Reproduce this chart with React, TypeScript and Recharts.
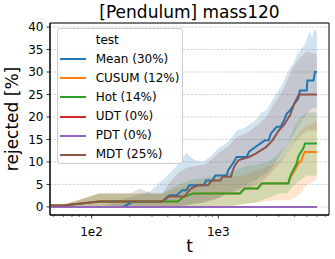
import React from 'react';
import { ComposedChart, Line, Area, XAxis, YAxis, CartesianGrid, ReferenceArea } from 'recharts';

const SERIES = ['Mean', 'CUSUM', 'Hot', 'UDT', 'PDT', 'MDT'];
const SHARES = [30, 12, 14, 0, 0, 25];
const COLORS = ['#1f77b4', '#ff7f0e', '#2ca02c', '#d62728', '#9467bd', '#8c564b'];

const X_TICKS = [50, 60, 70, 80, 90, 100, 200, 300, 400, 500, 600, 700, 800, 900, 1000, 2000, 3000, 4000, 5000, 6000, 7000];
const X_MAJOR = [100, 1000];
const X_LABELS = ['1e2', '1e3'];
const Y_TICKS = [0, 5, 10, 15, 20, 25, 30, 35, 40];

// [t, rejected %]
const meanLine = [
  [47, 0], [177, 0], [212, 1.2], [366, 1.2], [415, 2.6], [470, 2.6], [520, 3.7], [560, 3.7], [590, 4.8],
  [770, 4.8], [800, 5.9], [900, 5.9], [950, 7.0], [1164, 7.0], [1200, 8.2], [1300, 9.6], [1396, 11.1],
  [1675, 11.1], [1750, 12.3], [2000, 13.5], [2337, 14.8], [2500, 14.8], [2600, 16.3], [2891, 17.8],
  [3100, 17.8], [3300, 19.2], [3467, 20.7], [3700, 21.5], [4000, 23], [4285, 24.1], [4415, 25.9],
  [4990, 25.9], [5050, 28.1], [5635, 28.1], [5800, 30], [6000, 30],
];
const cusumLine = [
  [47, 0.3], [60, 0.3], [115, 1.2], [480, 1.2], [530, 2.2], [635, 3.0], [1480, 3.0], [1620, 4.1],
  [2050, 4.1], [2200, 5.2], [3573, 5.3], [3802, 7.1], [4037, 8.2], [4285, 9.7], [4547, 10.4],
  [4684, 11.6], [4844, 12.2], [6000, 12.2],
];
const hotLine = [
  [47, 0.3], [60, 0.3], [115, 1.2], [480, 1.2], [530, 2.2], [635, 3.0], [1480, 3.0], [1620, 4.1],
  [2050, 4.1], [2200, 5.2], [3573, 5.2], [3683, 6.7], [3910, 8.2], [4165, 9.7], [4285, 11.2],
  [4415, 11.9], [4684, 13], [4844, 14.1], [6000, 14.1],
];
const udtLine = [[47, 0], [6000, 0]];
const pdtLine = [[47, 0], [6000, 0]];
const mdtLine = [
  [47, 0.3], [60, 0.3], [115, 1.2], [360, 1.2], [400, 2.3], [540, 2.3], [610, 4.1], [690, 4.8],
  [830, 4.8], [890, 5.9], [1040, 5.9], [1080, 6.7], [1260, 6.7], [1300, 8.1], [1370, 9.5], [1450, 10.4],
  [1750, 11.1], [1990, 11.9], [2380, 13.3], [2680, 14.8], [3000, 17], [3350, 18.5], [3700, 20.5],
  [3980, 23], [4330, 25], [6000, 25],
];

// [t, low, high]
const meanBand = [
  [47, 0, 0], [120, 0, 0], [200, 0, 2.2], [290, 0, 3.4], [415, 0, 7.5], [500, 0.3, 10], [560, 0.5, 12],
  [650, 0.8, 10.5], [750, 1, 10], [850, 1.5, 11], [1000, 2, 13], [1200, 3, 14.5], [1400, 4, 17],
  [1600, 4.5, 17.5], [1800, 5.5, 18.5], [2000, 6, 19.5], [2200, 7, 21], [2400, 7.5, 21.5], [2700, 9, 24],
  [3000, 11, 26], [3300, 13, 28], [3600, 14.5, 30.5], [3900, 16, 32], [4200, 17.5, 34], [4500, 19, 35],
  [4800, 20, 36], [5100, 21, 38], [5300, 21.5, 39], [5500, 22, 37.5], [5700, 22, 39.5], [6000, 22, 39],
];
const cusumBand = [
  [47, 0, 0.5], [60, 0, 0.5], [115, 0, 3], [360, 0, 3], [600, 0, 5], [1000, 0, 6], [1500, 0.5, 7],
  [2000, 1, 8], [3000, 1.5, 10], [3500, 1.5, 12], [4000, 2, 15], [4500, 3, 17], [5000, 5, 18], [6000, 6, 19],
];
const hotBand = [
  [47, 0, 0.5], [60, 0, 0.5], [115, 0, 3], [360, 0, 3], [450, 0, 4.5], [600, 0, 6], [800, 0, 6.5],
  [1000, 0, 7], [1200, 0, 7.5], [1600, 0.7, 9], [2000, 1, 9.5], [2500, 2, 10], [3000, 3, 12],
  [3500, 3, 14], [4000, 5, 18], [4500, 6, 20], [5000, 7, 21], [6000, 7, 21],
];
const mdtBand = [
  [47, 0, 0.5], [60, 0, 0.5], [115, 0, 3], [200, 0, 3], [241, 0, 4.1], [300, 0, 3], [360, 0, 3],
  [415, 0, 5.5], [500, 0, 8], [600, 0.5, 9], [800, 1, 9.5], [1000, 2, 12], [1200, 3, 13.5], [1400, 3.5, 15.5],
  [1700, 4, 16.5], [2000, 5, 18], [2400, 6.5, 20], [2700, 8, 22.5], [3000, 9.5, 24.5], [3300, 11, 26.5],
  [3600, 12.5, 29], [3900, 14, 31], [4200, 15, 32.5], [4500, 16, 33.5], [5000, 17, 34.5], [6000, 17, 34],
];

const LINES = [meanLine, cusumLine, hotLine, udtLine, pdtLine, mdtLine];
const BANDS = [meanBand, cusumBand, hotBand, null, null, mdtBand];

const toLine = (pts: number[][]) => pts.map(([t, v]) => ({ t, v }));
const toBand = (pts: number[][]) => pts.map(([t, lo, hi]) => ({ t, range: [lo, hi] }));

const FONT = '"DejaVu Sans", sans-serif';

function LogTick(props: any) {
  const { x, y, payload } = props;
  const idx = X_MAJOR.indexOf(payload.value);
  const major = idx >= 0;
  return (
    <g>
      <line x1={x} x2={x} y1={y} y2={y + (major ? 3.5 : 2)} stroke="#000" strokeWidth={major ? 0.8 : 0.6} />
      {major && (
        <text x={x} y={y + 20.7} textAnchor="middle" fontSize={12} fill="#000" fontFamily={FONT}>
          {X_LABELS[idx]}
        </text>
      )}
    </g>
  );
}

export default function App() {
  return (
    <div style={{ position: 'absolute', left: 0, top: 0, width: 335, height: 259, fontFamily: FONT, background: '#fff' }}>
      <ComposedChart width={335} height={259} margin={{ top: 23, right: 6, bottom: 0, left: 0 }}>
        <XAxis
          dataKey="t"
          type="number"
          scale="log"
          domain={[47, 7480]}
          allowDataOverflow
          ticks={X_TICKS}
          interval={0}
          height={44}
          tickSize={0}
          tickMargin={0}
          tickLine={false}
          axisLine={{ stroke: '#000', strokeWidth: 1 }}
          tick={<LogTick />}
        />
        <YAxis
          type="number"
          domain={[-1.8, 40.9]}
          allowDataOverflow
          ticks={Y_TICKS}
          interval={0}
          width={50}
          tickSize={3.5}
          tickMargin={3}
          tickLine={{ stroke: '#000', strokeWidth: 0.8 }}
          axisLine={{ stroke: '#000', strokeWidth: 1 }}
          tick={{ fill: '#000', fontSize: 12, fontFamily: FONT }}
        />
        {BANDS.map((b, i) =>
          b ? (
            <Area
              key={'band-' + SERIES[i]}
              data={toBand(b)}
              dataKey="range"
              type="linear"
              stroke="none"
              fill={COLORS[i]}
              fillOpacity={0.2}
              isAnimationActive={false}
              dot={false}
              activeDot={false}
            />
          ) : null
        )}
        <CartesianGrid horizontal vertical={false} stroke="#c8c8c8" strokeDasharray="2.5 1.3" strokeWidth={0.8} />
        {LINES.map((l, i) => (
          <Line
            key={'line-' + SERIES[i]}
            data={toLine(l)}
            dataKey="v"
            type="linear"
            stroke={COLORS[i]}
            strokeWidth={2}
            dot={false}
            activeDot={false}
            isAnimationActive={false}
          />
        ))}
        <ReferenceArea x1={47} x2={7480} y1={-1.8} y2={40.9} fill="none" stroke="#000" strokeWidth={1} ifOverflow="visible" />
      </ComposedChart>
      <svg width={335} height={259} style={{ position: 'absolute', left: 0, top: 0, pointerEvents: 'none' }}>
        <text x={189.5} y={17.8} textAnchor="middle" fontSize={17} fill="#000" fontFamily={FONT}>
          [Pendulum] mass120
        </text>
        <text x={189.5} y={252} textAnchor="middle" fontSize={17} fill="#000" fontFamily={FONT}>
          t
        </text>
        <text x={18} y={119} textAnchor="middle" fontSize={17} fill="#000" fontFamily={FONT} transform="rotate(-90 18 119)">
          rejected [%]
        </text>
      </svg>
      <div
        style={{
          position: 'absolute',
          left: 56.7,
          top: 28.3,
          width: 126,
          height: 136,
          boxSizing: 'border-box',
          border: '1px solid #cccccc',
          borderRadius: 3,
          background: 'rgba(255,255,255,0.8)',
          fontSize: 12,
          color: '#000',
        }}
      >
        {['test', ...SERIES].map((name, i) => {
          const s = i - 1;
          return (
            <div
              key={name}
              style={{ position: 'absolute', left: 0, top: 1.4 + i * 19.1, height: 19, width: 124, display: 'flex', alignItems: 'center' }}
            >
              {s >= 0 && (
                <div style={{ position: 'absolute', left: 2.3, top: 8.5, width: 26, height: 2, background: COLORS[s] }} />
              )}
              <span style={{ position: 'absolute', left: 38, lineHeight: '19px', whiteSpace: 'nowrap' }}>
                {s >= 0 ? `${name} (${SHARES[s]}%)` : name}
              </span>
            </div>
          );
        })}
      </div>
    </div>
  );
}
